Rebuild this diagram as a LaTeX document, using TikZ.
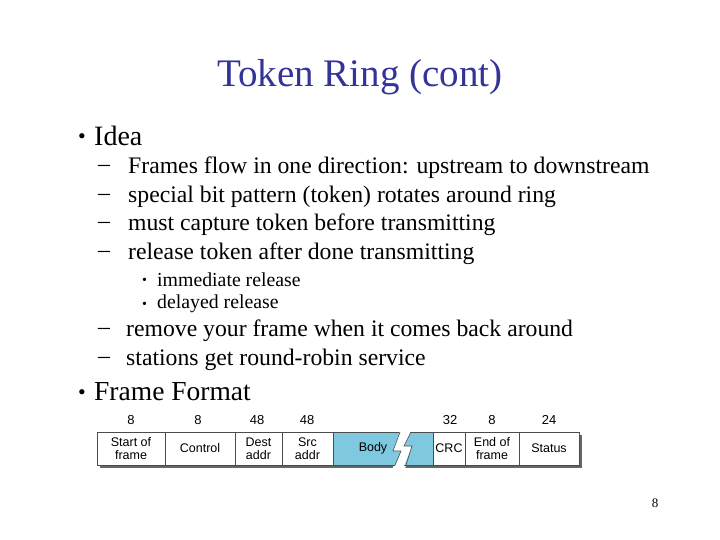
\documentclass[tikz,border=0pt]{standalone}
\usepackage{fontspec}
\setmainfont{Liberation Serif}
\newfontfamily\arial{Liberation Sans}
\definecolor{bodyc}{RGB}{126,200,224}
\definecolor{titc}{RGB}{51,51,153}
\begin{document}
\begin{tikzpicture}[x=1pt,y=-1pt,
  txt/.style={anchor=west,inner sep=0pt},
  fld/.style={draw=black!70,line width=0.6pt,fill=white},
  lab/.style={font=\arial\fontsize{12.5}{13}\selectfont,align=center,inner sep=0pt},
  num/.style={font=\arial\fontsize{13}{13}\selectfont,inner sep=0pt}]
\useasboundingbox (0,0) rectangle (720,540);
\node[inner sep=0pt,text=titc] (title) at (360,77) {\fontsize{39}{42}\selectfont Token Ring (cont)};
\node[txt] (b1) at (78,139) {\fontsize{22}{24}\selectfont •};
\node[txt] (idea) at (94,136) {\fontsize{28}{30}\selectfont Idea};
\foreach \y/\t in {168/Frames flow in one direction: upstream to downstream,197/special bit pattern (token) rotates around ring,225/must capture token before transmitting,254/release token after done transmitting}{
  \node[txt] at (98,\y) {\fontsize{23.7}{25}\selectfont –};
  \node[txt] at (128,\y) {\fontsize{23.7}{25}\selectfont \t};
}
\foreach \y/\t in {280/immediate release,304/delayed release}{
  \node[txt] at (142,\y+1) {\fontsize{14}{16}\selectfont •};
  \node[txt] at (157,\y) {\fontsize{19.8}{21}\selectfont \t};
}
\foreach \y/\t in {331/remove your frame when it comes back around,360/stations get round-robin service}{
  \node[txt] at (98,\y) {\fontsize{23.7}{25}\selectfont –};
  \node[txt] at (126,\y) {\fontsize{23.7}{25}\selectfont \t};
}
\node[txt] (b2) at (78,395) {\fontsize{22}{24}\selectfont •};
\node[txt] (ff) at (94,392) {\fontsize{27.5}{30}\selectfont Frame Format};
% shadow
\fill[black!60] (100,435) rectangle (582,468);
\fill[white] (395,462) -- (408,462) -- (404,470) -- (392,470) -- cycle;
% fields
\foreach \a/\b/\t in {97/165/{Start of\\frame},165/235/Control,235/282/{Dest\\addr},282/333/{Src\\addr},433/465/CRC,465/519/{End of\\frame},519/579/Status}{
  \draw[fld] (\a,432) rectangle (\b,465);
  \node[lab] at ({(\a+\b)/2},448.5) {\t};
}
\draw[fld,fill=bodyc] (333,432) rectangle (433,465);
\fill[white] (400,431) -- (411,431) -- (404,446) -- (412,446) -- (404,466) -- (395,466) -- (401,451) -- (393,451) -- cycle;
\draw[black!70,line width=0.6pt] (400,432) -- (393,451) -- (401,451) -- (395,465);
\draw[black!70,line width=0.6pt] (411,432) -- (404,446) -- (412,446) -- (406,465);
\node[lab] at (373,448.5) {Body};
\foreach \x/\n in {131/8,198/8,257/48,307/48,450/32,492/8,549/24}{
  \node[num] at (\x,420) {\n};
}
\node[inner sep=0pt] (pg) at (655,503) {\fontsize{13}{13}\selectfont 8};
\end{tikzpicture}
\end{document}
